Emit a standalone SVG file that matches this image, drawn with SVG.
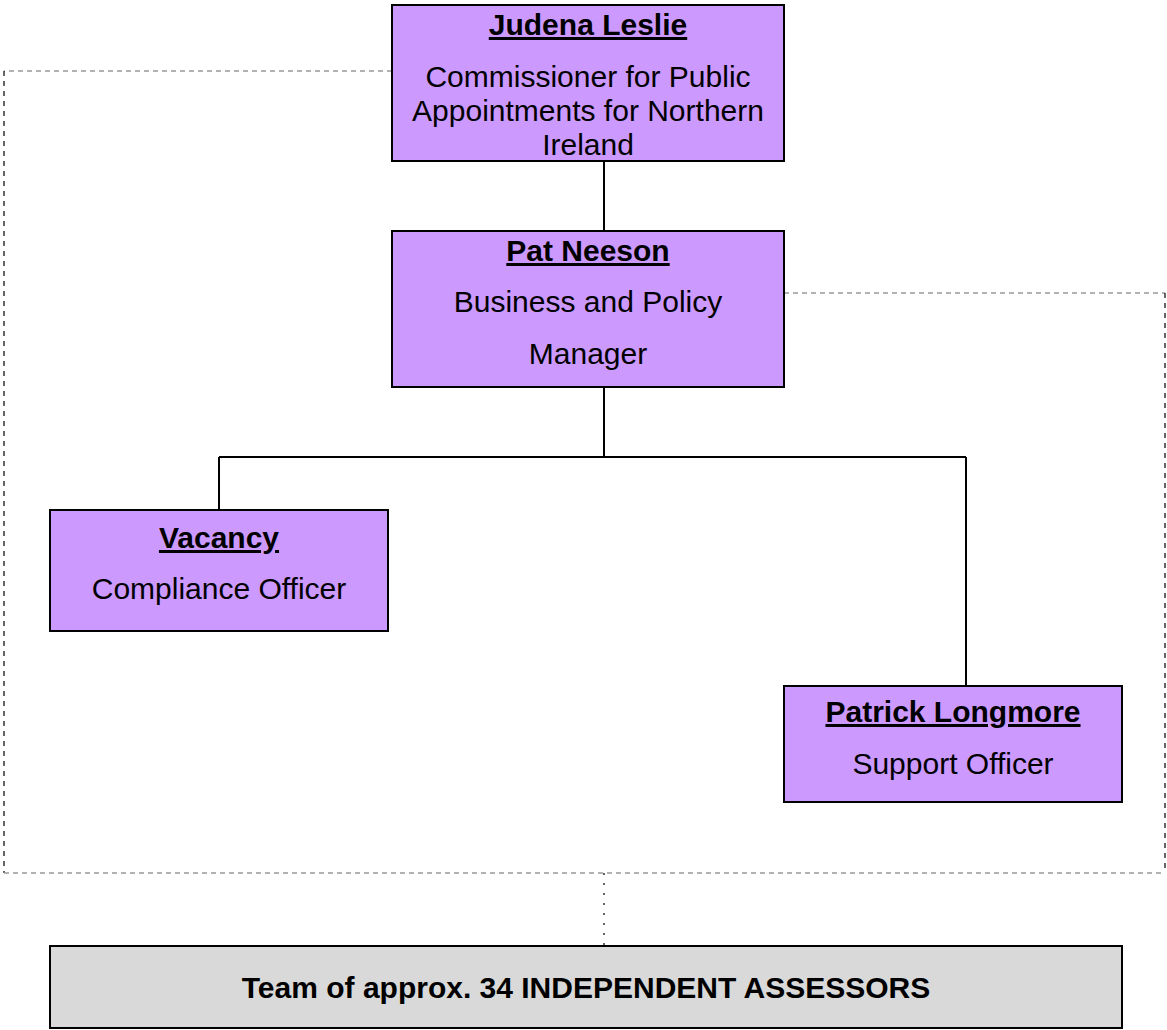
<svg xmlns="http://www.w3.org/2000/svg" width="1167" height="1030" viewBox="0 0 1167 1030">
<style>
.box{fill:#CC99FF;stroke:#000;stroke-width:2}
.grey{fill:#D9D9D9;stroke:#000;stroke-width:2}
text{font-family:"Liberation Sans",Arial,sans-serif;font-size:30px;fill:#000;text-anchor:middle}
.name{font-weight:bold;text-decoration:underline}
.bold{font-weight:bold}
.solid{stroke:#000;stroke-width:2;fill:none}
.dash{stroke:#999;stroke-width:1.5;stroke-dasharray:5,4;fill:none}
.dashdark{stroke:#333;stroke-width:1.5;stroke-dasharray:5,5;fill:none}
.dot{stroke:#333;stroke-width:1.5;stroke-dasharray:2,8;fill:none}
</style>
<g id="connectors">
<path class="dash" d="M392 71 H4"/>
<path class="dashdark" d="M4 71 V873"/>
<path class="dash" d="M4 873 H1165"/>
<path class="dash" d="M784 293 H1165"/>
<path class="dashdark" d="M1165 293 V873"/>
<path class="dot" d="M604 873 V945"/>
<path class="solid" d="M604 161 V231"/>
<path class="solid" d="M604 387 V457 M219 457 H966 M219 457 V510 M966 457 V686"/>
</g>
<g id="judena">
<rect class="box" x="392" y="5" width="392" height="156"/>
<text class="name" x="588" y="35">Judena Leslie</text>
<text x="588" y="87">Commissioner for Public</text>
<text x="588" y="121">Appointments for Northern</text>
<text x="588" y="155">Ireland</text>
</g>
<g id="pat">
<rect class="box" x="392" y="231" width="392" height="156"/>
<text class="name" x="588" y="261">Pat Neeson</text>
<text x="588" y="312">Business and Policy</text>
<text x="588" y="364">Manager</text>
</g>
<g id="vacancy">
<rect class="box" x="50" y="510" width="338" height="121"/>
<text class="name" x="219" y="548">Vacancy</text>
<text x="219" y="599">Compliance Officer</text>
</g>
<g id="patrick">
<rect class="box" x="784" y="686" width="338" height="116"/>
<text class="name" x="953" y="722">Patrick Longmore</text>
<text x="953" y="774">Support Officer</text>
</g>
<g id="assessors">
<rect class="grey" x="50" y="946" width="1072" height="82"/>
<text class="bold" x="586" y="998">Team of approx. 34 INDEPENDENT ASSESSORS</text>
</g>
</svg>
